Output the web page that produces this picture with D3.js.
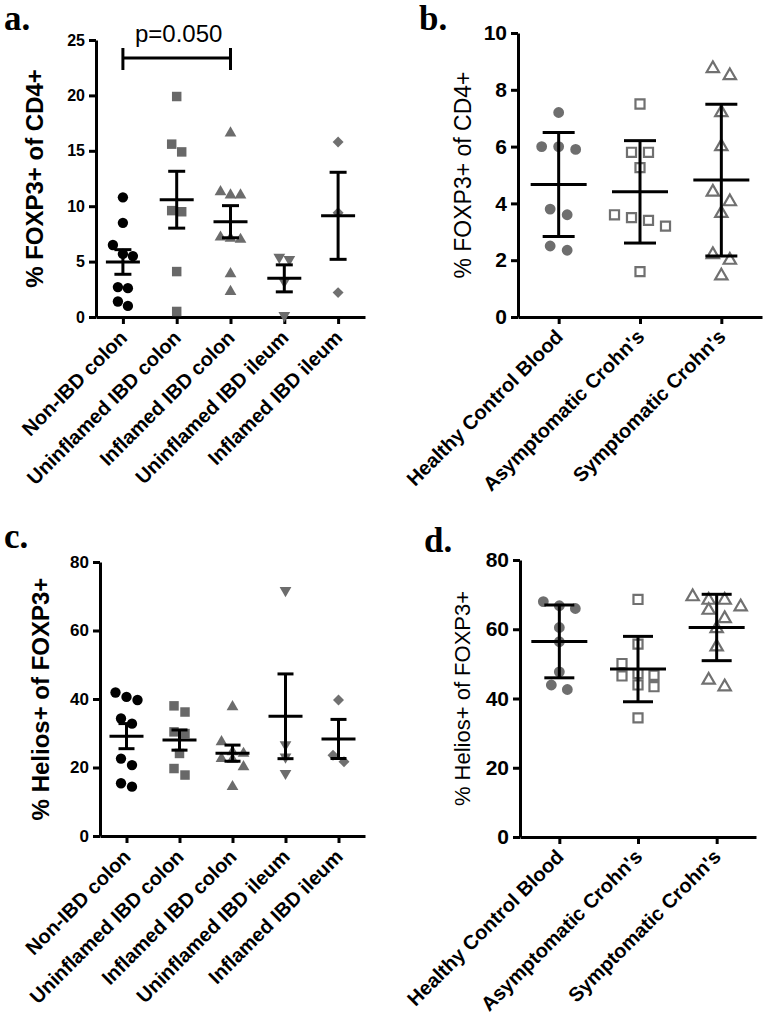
<!DOCTYPE html>
<html><head><meta charset="utf-8">
<script src="https://cdn.jsdelivr.net/npm/d3@7/dist/d3.min.js"></script>
<style>body{margin:0;background:#fff}svg{display:block}</style>
</head><body>
<svg id="c" width="768" height="1018"></svg>
<script>
// ---- data ----
const catsColon = ["Non-IBD colon","Uninflamed IBD colon","Inflamed IBD colon","Uninflamed IBD ileum","Inflamed IBD ileum"];
const catsBlood = ["Healthy Control Blood","Asymptomatic Crohn's","Symptomatic Crohn's"];
const foxpColon = [
  [10.8,8.5,6.5,5.7,5.5,2.7,2.6,1.4,1.0],
  [19.9,15.6,14.9,9.6,9.5,4.1,0.5],
  [16.6,11.3,11.0,11.0,7.2,7.1,7.0,3.9,2.3],
  [5.4,5.2,3.2,0.15],
  [15.8,9.4,2.2]
];
const foxpBlood = [
  [7.2,6.0,6.0,5.9,3.8,3.6,2.5,2.35],
  [7.5,5.8,5.8,5.26,3.6,3.5,3.4,3.2,1.6],
  [8.75,8.5,7.2,6.0,4.4,4.06,3.65,2.2,2.0,1.45]
];
const heliosColon = [
  [41.9,40.6,39.7,34.3,32.8,22.6,20.7,15.4,14.4],
  [38.0,36.2,30.4,29.9,24.1,19.7,17.8],
  [37.7,27.5,24.6,24.1,22.6,22.4,20.2,14.4],
  [71.7,26.7,23.1,18.3],
  [39.7,23.6,21.7]
];
const heliosBlood = [
  [68.0,66.8,66.0,60.5,56.4,47.7,43.9,42.6],
  [68.6,55.7,50.1,47.2,46.7,46.5,43.9,43.4,34.4],
  [69.4,68.4,68.4,66.5,65.5,63.1,60.2,54.9,45.3,43.4]
];
const ticksA = [0,5,10,15,20,25];
const ticksB = [0,2,4,6,8,10];
const ticksCD = [0,20,40,60,80];
const pLabel = "p=0.050";

// ---- drawing ----
const svg = d3.select("#c");
const FONT = "'Liberation Sans', Arial, Helvetica, sans-serif";

const colonMarks = [
  {type:d3.symbolCircle, size:84, fill:"#000", stroke:"none", rot:0},
  {type:d3.symbolSquare, size:90, fill:"#686868", stroke:"none", rot:0},
  {type:d3.symbolTriangle, size:60, fill:"#6c6c6c", stroke:"none", rot:0},
  {type:d3.symbolTriangle, size:60, fill:"#6c6c6c", stroke:"none", rot:180},
  {type:d3.symbolSquare, size:60, fill:"#707070", stroke:"none", rot:45}
];
const bloodMarks = [
  {type:d3.symbolCircle, size:92, fill:"#6e6e6e", stroke:"none", rot:0},
  {type:d3.symbolSquare, size:82, fill:"#fff", stroke:"#707070", rot:0, sw:2.2},
  {type:d3.symbolTriangle, size:66, fill:"#fff", stroke:"#707070", rot:0, sw:2.2}
];

// group points into rows of similar value, spread each row symmetrically
function swarm(vals, y, d, thr) {
  const order = vals.map((v,i)=>i).sort((a,b)=>vals[b]-vals[a]);
  const rows = [];
  order.forEach(i => {
    const r = rows[rows.length-1];
    if (r && Math.abs(y(vals[i]) - y(vals[r[0]])) < thr) r.push(i);
    else rows.push([i]);
  });
  const off = new Array(vals.length).fill(0);
  rows.forEach(r => r.forEach((i,k) => { off[i] = (k - (r.length-1)/2) * d; }));
  return off;
}

function panel(cfg) {
  const g = svg.append("g");
  const x = d3.scalePoint().domain(cfg.cats).range([cfg.left, cfg.right]).padding(0.5);
  const y = d3.scaleLinear().domain([0, cfg.max]).range([cfg.bottom, cfg.top]);

  // axes
  const ya = g.append("g").attr("transform",`translate(${cfg.left},0)`)
    .call(d3.axisLeft(y).tickValues(cfg.ticks).tickSize(7).tickSizeOuter(0).tickPadding(4));
  ya.selectAll("text").attr("font-family",FONT).attr("font-size",cfg.tickFont)
    .attr("font-weight","bold").attr("fill","#000");
  const xa = g.append("g").attr("transform",`translate(0,${cfg.bottom})`)
    .call(d3.axisBottom(x).tickSize(7).tickSizeOuter(0));
  xa.selectAll("text").attr("font-family",FONT).attr("font-size",cfg.catFont)
    .attr("font-weight","bold").attr("fill","#000")
    .attr("text-anchor","end").attr("x",0).attr("y",0).attr("dy",0)
    .attr("transform",`translate(5,${cfg.labOff}) rotate(-45)`);
  g.selectAll(".domain, .tick line").attr("stroke","#000").attr("stroke-width",3);

  // y label
  g.append("text").attr("transform",`translate(${cfg.ylx},${(cfg.top+cfg.bottom)/2}) rotate(-90)`)
    .attr("text-anchor","middle").attr("dominant-baseline","central")
    .attr("font-family",FONT).attr("font-size",cfg.ylFont).attr("font-weight",cfg.ylWeight)
    .text(cfg.ylabel);

  // panel letter
  g.append("text").attr("x",cfg.lx).attr("y",cfg.ly)
    .attr("font-family","'Liberation Serif','Times New Roman',serif")
    .attr("font-size",35).attr("font-weight","bold").text(cfg.letter);

  // points
  cfg.data.forEach((vals, ci) => {
    const m = cfg.marks[ci];
    const cx = x(cfg.cats[ci]);
    const off = swarm(vals, y, cfg.spread, cfg.rowThr);
    const sym = d3.symbol().type(m.type).size(m.size);
    g.selectAll(null).data(vals).enter().append("path")
      .attr("d", sym)
      .attr("transform",(v,i)=>`translate(${cx+off[i]},${y(v)}) rotate(${m.rot})`)
      .attr("fill",m.fill).attr("stroke",m.stroke).attr("stroke-width",m.sw||0);
  });

  // error bars
  cfg.data.forEach((vals, ci) => {
    const cx = x(cfg.cats[ci]);
    const mean = d3.mean(vals);
    const sd = d3.deviation(vals);
    const err = cfg.sem ? sd/Math.sqrt(vals.length) : sd;
    const lines = [
      [cx, y(mean-err), cx, y(mean+err)],
      [cx-cfg.capW, y(mean+err), cx+cfg.capW, y(mean+err)],
      [cx-cfg.capW, y(mean-err), cx+cfg.capW, y(mean-err)],
      [cx-cfg.meanW, y(mean), cx+cfg.meanW, y(mean)]
    ];
    g.selectAll(null).data(lines).enter().append("line")
      .attr("x1",d=>d[0]).attr("y1",d=>d[1]).attr("x2",d=>d[2]).attr("y2",d=>d[3])
      .attr("stroke","#000").attr("stroke-width",3);
  });
  return {g, x, y};
}

const common = {tickFont:16, catFont:20, labOff:22};

const A = panel(Object.assign({}, common, {
  cats:catsColon, data:foxpColon, marks:colonMarks, sem:true,
  left:96, right:365, top:40, bottom:317, max:25, ticks:ticksA,
  ylabel:"% FOXP3+ of CD4+", ylx:34, ylFont:24, ylWeight:"bold",
  letter:"a.", lx:4, ly:30, spread:10, rowThr:12, capW:8.5, meanW:17
}));
// p-value bracket
{
  const x1 = A.x(catsColon[0]), x2 = A.x(catsColon[2]);
  const by = 58;
  const br = [[x1,by,x2,by],[x1,by-10,x1,by+12],[x2,by-10,x2,by+12]];
  A.g.selectAll(null).data(br).enter().append("line")
    .attr("x1",d=>d[0]).attr("y1",d=>d[1]).attr("x2",d=>d[2]).attr("y2",d=>d[3])
    .attr("stroke","#000").attr("stroke-width",3);
  A.g.append("text").attr("x",(x1+x2)/2+2).attr("y",42).attr("text-anchor","middle")
    .attr("font-family",FONT).attr("font-size",24).text(pLabel);
}

panel(Object.assign({}, common, {
  cats:catsBlood, data:foxpBlood, marks:bloodMarks, sem:false,
  left:518, right:762, top:33, bottom:317, max:10, ticks:ticksB, tickFont:21, labOff:21,
  ylabel:"% FOXP3+ of CD4+", ylx:463, ylFont:23, ylWeight:"normal",
  letter:"b.", lx:419, ly:30, spread:17, rowThr:12, capW:16, meanW:28
}));

panel(Object.assign({}, common, {
  cats:catsColon, data:heliosColon, marks:colonMarks, sem:true,
  left:100, right:365, top:562, bottom:836, max:80, ticks:ticksCD, tickFont:17,
  ylabel:"% Helios+ of FOXP3+", ylx:40, ylFont:24, ylWeight:"bold",
  letter:"c.", lx:4, ly:548, spread:11, rowThr:12, capW:8, meanW:17
}));

panel(Object.assign({}, common, {
  cats:catsBlood, data:heliosBlood, marks:bloodMarks, sem:false,
  left:520, right:756, top:560, bottom:837, max:80, ticks:ticksCD, tickFont:21, labOff:21,
  ylabel:"% Helios+ of FOXP3+", ylx:462, ylFont:22, ylWeight:"normal",
  letter:"d.", lx:424, ly:552, spread:16, rowThr:12, capW:15, meanW:28
}));
</script>
</body></html>
